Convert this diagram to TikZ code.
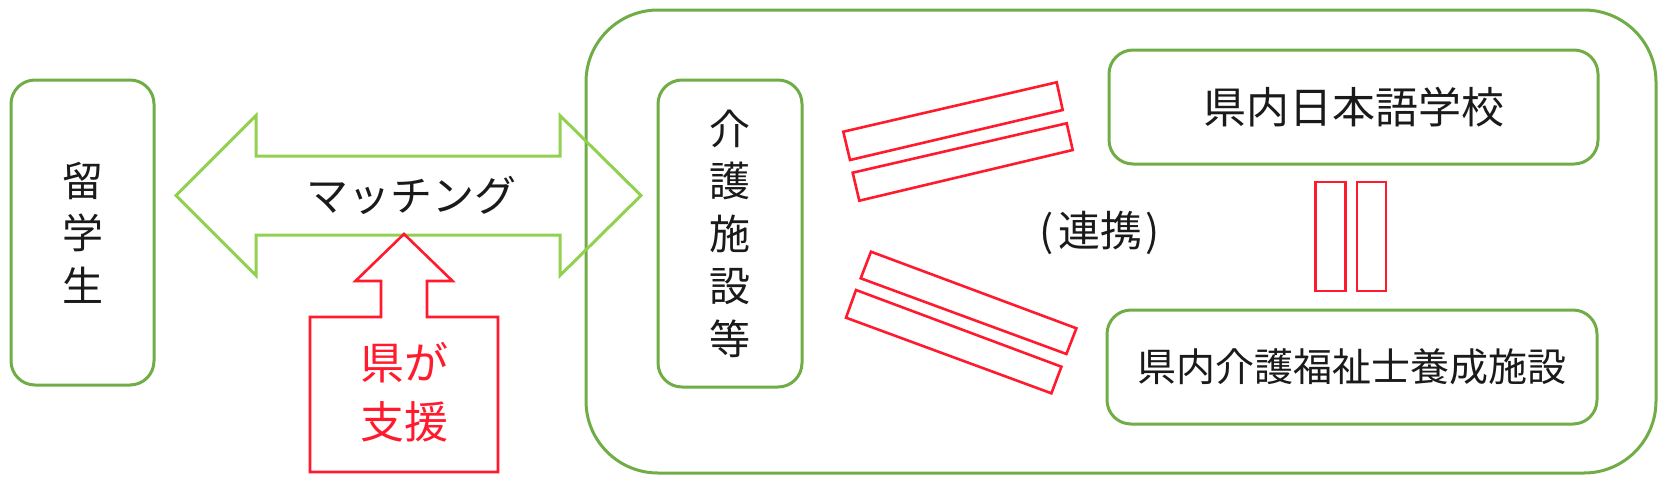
\documentclass[tikz,border=0pt]{standalone}
\usepackage{fontspec}
\newfontfamily\jp{Noto Sans CJK JP}
\definecolor{gline}{HTML}{70AD47}
\definecolor{aline}{HTML}{92D050}
\definecolor{rline}{HTML}{FF1A2E}
\definecolor{txt}{HTML}{1A1A1A}
\tikzset{
  gbox/.style={draw=gline, line width=3pt, rounded corners=24pt, inner sep=0pt, align=center, text=txt, font=\jp\fontsize{41}{52.5}\selectfont},
  bigbox/.style={draw=gline, line width=3pt, rounded corners=72pt, inner sep=0pt},
  blockarrow/.style={draw=aline, line width=3pt, line join=miter},
  redshape/.style={draw=rline, line width=2.6pt, line join=miter},
  label/.style={inner sep=0pt, text=txt, font=\jp\fontsize{42}{50}\selectfont},
  redlabel/.style={inner sep=0pt, align=center, text=rline, font=\jp\fontsize{44}{59}\selectfont}
}
\begin{document}
\begin{tikzpicture}[x=1pt,y=-1pt]
\useasboundingbox (0,0) rectangle (1666,482);
% frame around the care facility group
\node[bigbox, minimum width=1070pt, minimum height=463pt] (region) at (1121,241.5) {};
% boxes
\node[gbox, minimum width=143pt, minimum height=305pt] (ryu) at (82.5,232.5) {留\\学\\生};
\node[gbox, minimum width=144pt, minimum height=307pt] (kaigo) at (730,233.5) {介\\護\\施\\設\\等};
\node[gbox, minimum width=489pt, minimum height=114pt, font=\jp\fontsize{43}{50}\selectfont] (nihongo) at (1353.5,107) {県内日本語学校};
\node[gbox, minimum width=490pt, minimum height=114pt, font=\jp\fontsize{39}{48}\selectfont] (yosei) at (1352,367) {県内介護福祉士養成施設};
% double block arrow (matching)
\coordinate (ltip) at (176,195.5);
\coordinate (rtip) at (641,195.5);
\draw[blockarrow] (ltip) -- (256,115.5) -- (256,156) -- (560,156) -- (560,115.5) -- (rtip)
  -- (560,275.5) -- (560,235) -- (256,235) -- (256,275.5) -- cycle;
\node[label] (match) at (411,195) {マッチング};
% support arrow from the prefecture
\coordinate (stip) at (404,234);
\draw[redshape] (stip) -- (452.5,281) -- (427,281) -- (427,317) -- (498,317) -- (498,472)
  -- (310,472) -- (310,317) -- (381,317) -- (381,281) -- (355.5,281) -- cycle;
\node[redlabel] (ken) at (404,392.5) {県が\\支援};
% (連携)
\node[label, font=\jp\fontsize{42}{50}\selectfont] (renkei) at (1100,233) {(\kern4pt連携\kern4pt)};
% equal signs between facilities
\draw[redshape] (843.3,131.7) -- (1056.7,82.3) -- (1062.7,110) -- (850,160) -- cycle;
\draw[redshape] (852.7,172.7) -- (1066.7,123.3) -- (1072.7,150) -- (859.3,200.7) -- cycle;
\draw[redshape] (871,251.7) -- (1076.4,328.3) -- (1066.4,354) -- (860.7,278.3) -- cycle;
\draw[redshape] (856,290) -- (1061.4,366.7) -- (1051.4,393.3) -- (846,317.7) -- cycle;
\draw[redshape] (1315.5,182) rectangle (1345.5,291);
\draw[redshape] (1357,182) rectangle (1386,291);
\end{tikzpicture}
\end{document}
